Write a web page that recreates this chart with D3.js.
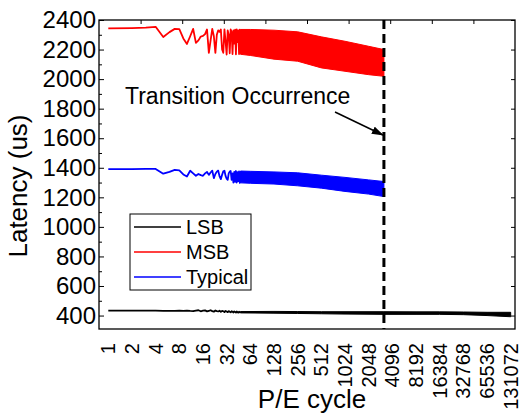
<!DOCTYPE html>
<html><head><meta charset="utf-8">
<script src="https://cdn.jsdelivr.net/npm/d3@7"></script>
<style>
body{margin:0;background:#fff}
svg{display:block}
text{font-family:Arial,"Liberation Sans",sans-serif;fill:#000}
</style>
</head><body>
<svg id="chart" width="521" height="416"></svg>
<script>
// ---- data ----
const cycleLabels = [1,2,4,8,16,32,64,128,256,512,1024,2048,4096,8192,16384,32768,65536,131072];
const yMajorTicks = [400,600,800,1000,1200,1400,1600,1800,2000,2200,2400];
const yMinorTicks = [500,700,900,1100,1300,1500,1700,1900,2100,2300];

const sparseCycles = d3.range(1, 49);
const msbValues = [2343,2345,2348,2354,2285,2318,2340,2338,2275,2238,2290,2340,2245,2262,2288,2292,
  2305,2336,2178,2262,2340,2290,2178,2300,2330,2320,2336,2200,2178,2336,2255,2166,
  2330,2300,2175,2336,2320,2170,2330,2240,2334,2168,2336,2250,2330,2170,2335,2180];
const typicalValues = [1391,1391,1392,1392,1360,1372,1386,1383,1355,1341,1380,1362,1346,1358,1350,1346,
  1362,1372,1352,1368,1381,1330,1358,1374,1381,1342,1323,1352,1376,1380,1345,1326,
  1318,1362,1374,1378,1318,1362,1300,1372,1305,1378,1300,1370,1310,1376,1298,1370];
const lsbValues = [433,433,433,433,432,432,432,433,431,434,431,430,434,436,429,433,
  435,428,432,436,430,426,434,430,428,433,425,432,429,424,431,427,
  423,430,426,422,429,425,421,428,424,420,427,423,420,426,422,419];

// dense parts (envelopes of the fast oscillation)
const bandCycles = [48,64,128,256,512,1024,2048,3200];
const msbUpper = [2336,2336,2331,2320,2286,2256,2222,2200];
const msbLower = [2168,2160,2135,2121,2076,2053,2030,2019];
const typicalUpper = [1378,1376,1372,1366,1350,1335,1318,1307];
const typicalLower = [1298,1295,1290,1278,1262,1240,1222,1205];
const lsbBandCycles = [48,128,256,512,1024,3200,8192,16384,32768,65536,131072];
const lsbUpper = [427,428,427,426,426,426,425,425,424,422,422];
const lsbLower = [418,416,414,412,410,408,408,408,406,400,392];

const transitionCycle = 3200;
const seriesNames = ["LSB","MSB","Typical"];
const seriesColors = ["#000000","#ff0000","#0000ff"];

// ---- layout ----
const svg = d3.select("#chart");
const L = 99, R = 515, T = 20, B = 329;

const x = d3.scaleLog().base(2).domain([1,131072]).range([108.3,510.7]);
const y = d3.scaleLinear().domain([309,2400]).range([B,T]);
const xTop = d3.scaleLinear().domain([0,10]).range([L,R]);

// series lines
const line = d3.line().x(d=>x(d[0])).y(d=>y(d[1]));
const area = d3.area().x(d=>x(d[0])).y0(d=>y(d[2])).y1(d=>y(d[1]));

function drawSeries(vals, bc, up, lo, color){
  const bandData = bc.map((c,i)=>[c,up[i],lo[i]]);
  svg.append("path").datum(bandData).attr("d",area)
    .attr("fill",color).attr("stroke",color).attr("stroke-width",1);
  svg.append("path").datum(sparseCycles.map((c,i)=>[c,vals[i]])).attr("d",line)
    .attr("fill","none").attr("stroke",color).attr("stroke-width",1.8).attr("stroke-linejoin","round");
}
drawSeries(msbValues, bandCycles, msbUpper, msbLower, seriesColors[1]);
drawSeries(typicalValues, bandCycles, typicalUpper, typicalLower, seriesColors[2]);
drawSeries(lsbValues, lsbBandCycles, lsbUpper, lsbLower, seriesColors[0]);

// transition dashed line
svg.append("line").attr("x1",x(transitionCycle)).attr("x2",x(transitionCycle))
  .attr("y1",T).attr("y2",B).attr("stroke","#000").attr("stroke-width",3)
  .attr("stroke-dasharray","9,5");

// frame
svg.append("rect").attr("x",L).attr("y",T).attr("width",R-L).attr("height",B-T)
  .attr("fill","none").attr("stroke","#000").attr("stroke-width",1.3);

// left axis
const yAxis = svg.append("g").attr("transform",`translate(${L},0)`)
  .call(d3.axisLeft(y).tickValues(yMajorTicks).tickSize(-5).tickPadding(3).tickFormat(d3.format("d")));
yAxis.select(".domain").remove();
yAxis.selectAll("text").attr("font-size",24).style("font-family","Arial, 'Liberation Sans', sans-serif");
const yMinor = svg.append("g").attr("transform",`translate(${L},0)`)
  .call(d3.axisLeft(y).tickValues(yMinorTicks).tickSize(-3).tickFormat(""));
yMinor.select(".domain").remove();
// right axis
const yRight = svg.append("g").attr("transform",`translate(${R},0)`)
  .call(d3.axisRight(y).tickValues(yMajorTicks).tickSize(-4).tickFormat(""));
yRight.select(".domain").remove();
// top axis
const topAx = svg.append("g").attr("transform",`translate(0,${T})`)
  .call(d3.axisTop(xTop).tickValues(d3.range(1,10)).tickSize(-4).tickFormat(""));
topAx.select(".domain").remove();

// bottom labels (rotated)
svg.append("g").selectAll("text").data(cycleLabels).join("text")
  .attr("transform",d=>`translate(${x(d)},343) rotate(-90)`)
  .attr("text-anchor","end").attr("dy","0.35em").attr("font-size",20)
  .text(d=>d);

// axis titles
svg.append("text").attr("x",312).attr("y",408).attr("text-anchor","middle")
  .attr("font-size",26).text("P/E cycle");
svg.append("text").attr("transform","translate(27,186) rotate(-90)")
  .attr("text-anchor","middle").attr("font-size",26).text("Latency (us)");

// legend
svg.append("rect").attr("x",130).attr("y",214).attr("width",121).attr("height",76)
  .attr("fill","#fff").attr("stroke","#000").attr("stroke-width",1);
const legY = [227,252,277];
seriesNames.forEach((n,i)=>{
  svg.append("line").attr("x1",134).attr("x2",181).attr("y1",legY[i]).attr("y2",legY[i])
    .attr("stroke",seriesColors[i]).attr("stroke-width",1.5);
  svg.append("text").attr("x",186).attr("y",legY[i]).attr("dy","0.35em")
    .attr("font-size",20).text(n);
});

// annotation
svg.append("defs").append("marker").attr("id","arr").attr("markerUnits","userSpaceOnUse")
  .attr("markerWidth",12).attr("markerHeight",8).attr("refX",11).attr("refY",4)
  .attr("orient","auto").append("path").attr("d","M0,0L12,4L0,8Z").attr("fill","#000");
svg.append("text").attr("x",125).attr("y",104).attr("font-size",23).text("Transition Occurrence");
svg.append("line").attr("x1",335).attr("y1",112).attr("x2",x(transitionCycle)-1).attr("y2",135)
  .attr("stroke","#000").attr("stroke-width",1.5).attr("marker-end","url(#arr)");
</script>
</body></html>
